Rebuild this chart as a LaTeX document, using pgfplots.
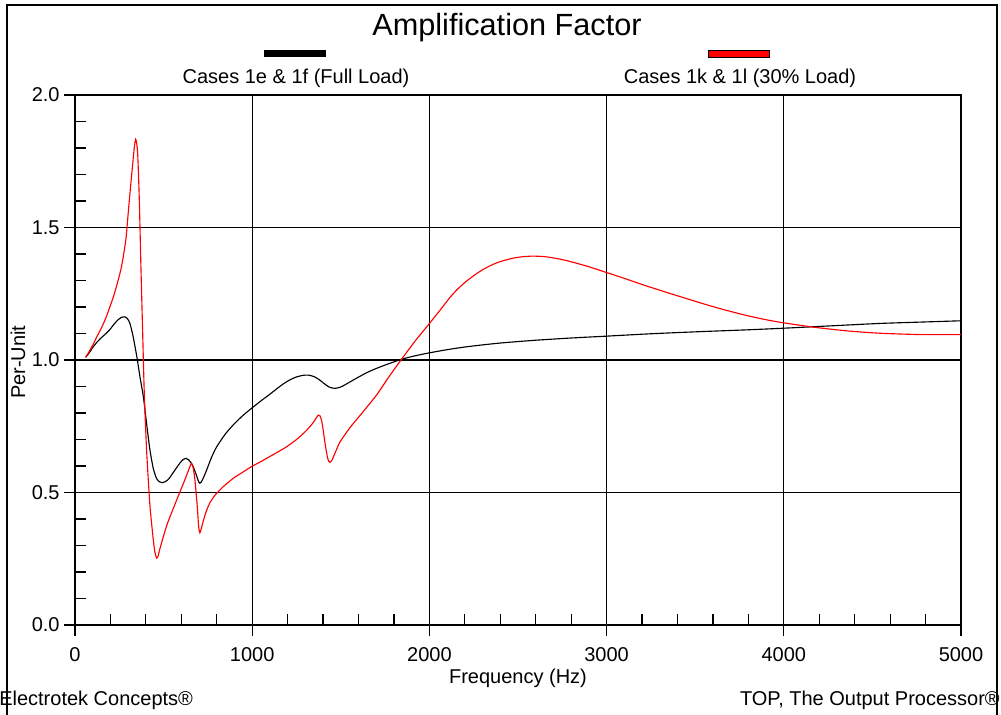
\documentclass[border=0pt]{standalone}
\usepackage{fontspec}
\setmainfont{Liberation Sans}
\usepackage{pgfplots}
\pgfplotsset{compat=1.18}

\begin{document}
\begin{tikzpicture}
\begin{scope}[x=0.75pt, y=0.75pt]
\path[use as bounding box] (0,0) rectangle (1001,715);

% outer frame (open at the bottom)
\draw[line width=1.5pt] (7,0) -- (7,710) -- (997,710) -- (997,0);

% title
\node[anchor=base, inner sep=0pt, font=\fontsize{23}{27}\selectfont] at (507,679) {Amplification Factor};

% legend
\fill[black] (264,657.5) rectangle (326,664.5);
\filldraw[fill=red, draw=black, line width=0.4pt] (708,657.5) rectangle (769,664.5);
\node[anchor=base, inner sep=0pt, font=\fontsize{15}{18}\selectfont] at (296,631) {Cases 1e \& 1f (Full Load)};
\node[anchor=base, inner sep=0pt, font=\fontsize{15}{18}\selectfont] at (740,631) {Cases 1k \& 1l (30\% Load)};

% footer
\node[anchor=base west, inner sep=0pt, font=\fontsize{15}{18}\selectfont] at (-1,9) {Electrotek Concepts®};
\node[anchor=base east, inner sep=0pt, font=\fontsize{15}{18}\selectfont] at (1000,9) {TOP, The Output Processor®};
\end{scope}

\begin{axis}[
  at={(56.25pt,67.5pt)}, anchor=south west,
  scale only axis, width=664.5pt, height=397.5pt,
  xmin=0, xmax=5000, ymin=0, ymax=2,
  xtick={0,1000,...,5000}, ytick={0,0.5,...,2},
  minor x tick num=4, minor y tick num=4,
  tick pos=left, tick align=outside,
  major tick length=8pt, minor tick length=8pt,
  every tick/.style={black, line width=0.9pt},
  minor x tick style={yshift=8pt},
  minor y tick style={xshift=8pt},
  grid=major, major grid style={black, line width=0.9pt},
  axis line style={line width=1.5pt},
  tick label style={font=\fontsize{15}{18}\selectfont, /pgf/number format/assume math mode=true},
  xticklabel style={/pgf/number format/1000 sep={}, yshift=-5.6pt},
  yticklabel style={/pgf/number format/.cd, fixed, fixed zerofill, precision=1},
  label style={font=\fontsize{15}{18}\selectfont},
  xlabel={Frequency (Hz)},
  xlabel style={at={(axis description cs:0.5,-0.1113)}, anchor=base},
  ylabel={Per-Unit},
  ylabel style={at={(axis description cs:-0.0564,0.496)}, anchor=base},
]
% Cases 1e & 1f (full load)
\addplot[black, line width=0.85pt, smooth, tension=0.4] coordinates {
(60,1.010) (80,1.027) (103,1.050) (125,1.068) (150,1.085) (175,1.100)
(197,1.115) (220,1.135) (240,1.150) (260,1.160) (278,1.163) (295,1.157)
(310,1.138) (325,1.098) (339,1.050) (352,1.000) (367,0.935) (386,0.860)
(405,0.755) (423,0.660) (442,0.590) (461,0.552) (478,0.540) (493,0.537)
(512,0.542) (530,0.552) (555,0.576) (593,0.612) (612,0.625) (626,0.629)
(640,0.624) (655,0.612) (668,0.596) (680,0.575) (690,0.556) (698,0.540)
(705,0.535) (713,0.540) (725,0.556) (743,0.585) (770,0.632) (800,0.673)
(850,0.722) (900,0.760) (950,0.792) (997,0.818) (1050,0.846) (1100,0.871)
(1140,0.892) (1176,0.910) (1215,0.926) (1250,0.936) (1285,0.942)
(1317,0.943) (1350,0.937) (1380,0.925) (1410,0.909) (1437,0.897)
(1467,0.893) (1495,0.897) (1520,0.905) (1580,0.928) (1646,0.952)
(1700,0.968) (1750,0.981) (1800,0.993) (1843,1.003) (1920,1.016)
(2000,1.027) (2100,1.039) (2200,1.049) (2300,1.057) (2400,1.064)
(2586,1.074) (2800,1.083) (3000,1.090) (3250,1.099) (3527,1.107)
(3800,1.114) (4001,1.120) (4270,1.129) (4543,1.138) (4770,1.143)
(5000,1.148)
};
% Cases 1k & 1l (30% load)
\addplot[red, line width=0.85pt, smooth, tension=0.4] coordinates {
(60,1.010) (80,1.032) (103,1.060) (125,1.090) (150,1.122) (175,1.160)
(197,1.201) (220,1.245) (244,1.302) (260,1.345) (273,1.392) (288,1.460)
(301,1.560) (313,1.650) (325,1.735) (335,1.805) (342,1.833) (348,1.818)
(354,1.775) (363,1.604) (372,1.352) (382,1.100) (391,0.874) (404,0.660)
(423,0.450) (442,0.321) (451,0.275) (461,0.252) (470,0.262) (480,0.290)
(520,0.380) (574,0.472) (620,0.548) (645,0.592) (658,0.610) (668,0.590)
(677,0.547) (690,0.447) (698,0.370) (705,0.348) (713,0.365) (725,0.395)
(740,0.428) (762,0.462) (790,0.490) (818,0.510) (850,0.530) (900,0.557)
(950,0.578) (997,0.598) (1050,0.617) (1100,0.636) (1150,0.655)
(1195,0.673) (1250,0.700) (1300,0.730) (1340,0.760) (1365,0.785)
(1373,0.792) (1382,0.790) (1392,0.770) (1402,0.730) (1411,0.686)
(1424,0.635) (1432,0.618) (1439,0.614) (1450,0.622) (1467,0.648)
(1495,0.690) (1552,0.745) (1620,0.800) (1702,0.868) (1770,0.935)
(1843,1.003) (1920,1.072) (1998,1.136) (2060,1.188) (2116,1.236)
(2160,1.268) (2210,1.298) (2260,1.323) (2304,1.342) (2350,1.358)
(2398,1.371) (2470,1.384) (2530,1.390) (2586,1.392) (2650,1.390)
(2710,1.384) (2775,1.375) (2900,1.352) (3000,1.330) (3100,1.308)
(3200,1.285) (3339,1.255) (3450,1.232) (3527,1.216) (3650,1.192)
(3790,1.168) (3900,1.152) (4001,1.140) (4167,1.124) (4355,1.110)
(4543,1.101) (4769,1.096) (5000,1.096)
};
\end{axis}
\end{tikzpicture}
\end{document}
